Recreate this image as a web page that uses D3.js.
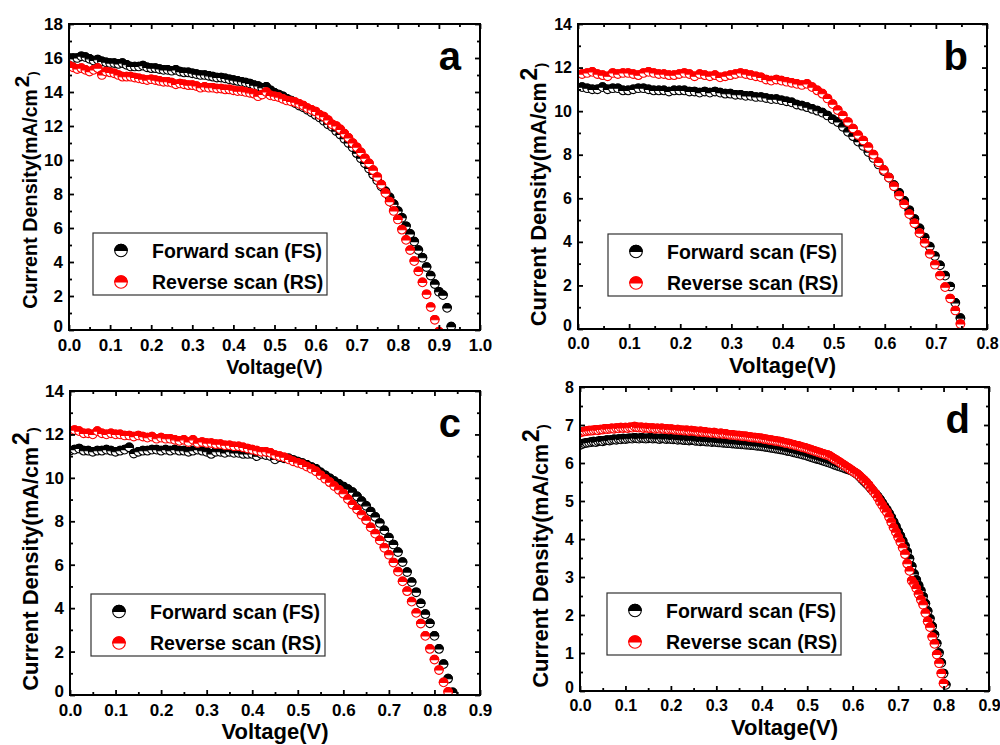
<!DOCTYPE html>
<html>
<head>
<meta charset="utf-8">
<script src="https://cdn.jsdelivr.net/npm/d3@7/dist/d3.min.js"></script>
<style>
  body { margin: 0; background: #fff; }
  svg { display: block; }
</style>
</head>
<body>
<script>
// ---- panel a ----
const voltsA = [0.00,0.01,0.02,0.03,0.04,0.05,0.06,0.07,0.08,0.09,
  0.10,0.11,0.12,0.13,0.14,0.15,0.16,0.17,0.18,0.19,
  0.20,0.21,0.22,0.23,0.24,0.25,0.26,0.27,0.28,0.29,
  0.30,0.31,0.32,0.33,0.34,0.35,0.36,0.37,0.38,0.39,
  0.40,0.41,0.42,0.43,0.44,0.45,0.46,0.47,0.48,0.49,
  0.50,0.51,0.52,0.53,0.54,0.55,0.56,0.57,0.58,0.59,
  0.60,0.61,0.62,0.63,0.64,0.65,0.66,0.67,0.68,0.69,
  0.70,0.71,0.72,0.73,0.74,0.75,0.76,0.77,0.78,0.79,
  0.80,0.81,0.82,0.83,0.84,0.85,0.86,0.87,0.88,0.89,
  0.90,0.91,0.92,0.93];
const fsA = [16.0,16.0,16.0,16.1,16.05,15.95,15.85,15.9,15.8,15.75,
  15.7,15.7,15.65,15.7,15.6,15.5,15.5,15.5,15.55,15.45,
  15.4,15.4,15.35,15.3,15.3,15.25,15.3,15.2,15.15,15.15,
  15.1,15.05,15.0,15.0,14.95,14.9,14.85,14.85,14.8,14.75,
  14.7,14.65,14.6,14.55,14.5,14.4,14.35,14.25,14.3,14.1,
  13.95,13.85,13.75,13.6,13.5,13.35,13.2,13.1,12.95,12.8,
  12.65,12.5,12.3,12.1,11.95,11.7,11.5,11.25,11.0,10.75,
  10.4,10.1,9.8,9.5,9.15,8.8,8.45,8.15,7.8,7.4,
  7.0,6.6,6.1,5.65,5.2,4.7,4.25,3.7,3.2,2.7,
  2.25,2.05,1.3,0.2];
const rsA = [15.55,15.45,15.35,15.4,15.3,15.2,15.3,15.4,15.0,15.2,
  15.15,15.1,15.0,14.9,14.9,14.9,14.85,14.8,14.75,14.7,
  14.75,14.7,14.65,14.6,14.6,14.55,14.45,14.5,14.45,14.4,
  14.4,14.35,14.25,14.3,14.25,14.25,14.2,14.2,14.15,14.15,
  14.1,14.05,14.05,14.0,13.95,13.9,13.75,13.85,14.0,13.8,
  13.75,13.7,13.6,13.5,13.45,13.4,13.3,13.2,13.05,12.95,
  12.85,12.65,12.55,12.35,12.1,12.0,11.8,11.55,11.3,11.0,
  10.75,10.45,10.1,9.8,9.4,9.0,8.55,8.05,7.55,7.0,
  6.5,5.9,5.3,4.7,4.05,3.45,2.8,2.1,1.35,0.6,
  -0.1];

// ---- panel b ----
const voltsB = [0.008,0.018,0.028,0.038,0.048,0.058,0.068,0.078,0.088,0.098,
  0.108,0.118,0.128,0.138,0.148,0.158,0.168,0.178,0.188,0.198,
  0.208,0.218,0.228,0.238,0.248,0.258,0.268,0.278,0.288,0.298,
  0.308,0.318,0.328,0.338,0.348,0.358,0.368,0.378,0.388,0.398,
  0.408,0.418,0.428,0.438,0.448,0.458,0.468,0.478,0.488,0.498,
  0.508,0.518,0.528,0.538,0.548,0.558,0.568,0.578,0.588,0.598,
  0.608,0.618,0.628,0.638,0.648,0.658,0.668,0.678,0.688,0.698,
  0.708,0.718,0.728,0.738,0.748];
const fsB = [11.1,11.05,11.0,11.0,11.1,11.0,11.05,11.05,10.95,10.95,
  11.0,11.05,11.05,11.0,10.95,10.95,10.95,10.9,10.95,10.95,
  10.95,10.9,10.9,10.85,10.9,10.85,10.9,10.85,10.8,10.8,
  10.75,10.75,10.7,10.7,10.65,10.65,10.6,10.55,10.55,10.5,
  10.45,10.4,10.3,10.25,10.18,10.1,10.02,9.93,9.8,9.62,
  9.5,9.28,9.05,8.85,8.6,8.4,8.12,7.85,7.55,7.25,
  6.95,6.6,6.25,5.88,5.45,5.05,4.62,4.2,3.78,3.35,
  2.92,2.45,1.95,1.2,0.5];
const rsB = [11.7,11.75,11.8,11.7,11.65,11.6,11.75,11.7,11.75,11.75,
  11.7,11.65,11.75,11.8,11.75,11.7,11.7,11.65,11.65,11.7,
  11.75,11.7,11.6,11.7,11.65,11.6,11.65,11.55,11.6,11.65,
  11.7,11.75,11.7,11.65,11.6,11.55,11.45,11.4,11.45,11.4,
  11.35,11.3,11.25,11.2,11.25,11.1,10.95,10.8,10.58,10.32,
  10.05,9.8,9.5,9.2,8.9,8.65,8.35,8.0,7.65,7.3,
  6.95,6.55,6.12,5.72,5.27,4.85,4.4,3.95,3.45,2.95,
  2.45,1.92,1.4,0.85,0.23];

// ---- panel c ----
const voltsC = [0.00,0.01,0.02,0.03,0.04,0.05,0.06,0.07,0.08,0.09,
  0.10,0.11,0.12,0.13,0.14,0.15,0.16,0.17,0.18,0.19,
  0.20,0.21,0.22,0.23,0.24,0.25,0.26,0.27,0.28,0.29,
  0.30,0.31,0.32,0.33,0.34,0.35,0.36,0.37,0.38,0.39,
  0.40,0.41,0.42,0.43,0.44,0.45,0.46,0.47,0.48,0.49,
  0.50,0.51,0.52,0.53,0.54,0.55,0.56,0.57,0.58,0.59,
  0.60,0.61,0.62,0.63,0.64,0.65,0.66,0.67,0.68,0.69,
  0.70,0.71,0.72,0.73,0.74,0.75,0.76,0.77,0.78,0.79,
  0.80,0.81,0.82,0.83,0.84];
const fsC = [11.25,11.3,11.35,11.25,11.25,11.2,11.25,11.25,11.3,11.25,
  11.2,11.25,11.3,11.4,11.12,11.2,11.25,11.25,11.3,11.3,
  11.25,11.3,11.25,11.3,11.25,11.25,11.2,11.25,11.3,11.25,
  11.2,11.1,11.2,11.2,11.15,11.2,11.15,11.15,11.1,11.1,
  11.1,11.0,11.1,11.05,11.0,10.85,10.95,10.9,10.9,10.82,
  10.75,10.68,10.6,10.5,10.41,10.25,10.12,9.98,9.85,9.72,
  9.6,9.48,9.34,9.15,8.93,8.71,8.45,8.2,7.92,7.58,
  7.25,6.93,6.58,6.12,5.66,5.2,4.73,4.22,3.72,3.3,
  2.72,2.12,1.42,0.75,0.12];
const rsC = [12.15,12.2,12.15,12.05,12.05,12.0,12.15,12.05,12.0,12.05,
  12.0,12.0,11.95,11.95,11.9,11.95,11.9,11.85,11.9,11.8,
  11.85,11.8,11.8,11.75,11.7,11.75,11.65,11.75,11.6,11.65,
  11.6,11.6,11.55,11.55,11.5,11.5,11.45,11.45,11.4,11.35,
  11.3,11.25,11.2,11.2,11.15,11.05,11.0,10.95,10.85,10.76,
  10.69,10.62,10.52,10.42,10.3,10.12,9.96,9.8,9.62,9.45,
  9.27,9.02,8.77,8.55,8.3,8.05,7.72,7.43,7.12,6.78,
  6.46,6.1,5.68,5.23,4.78,4.3,3.78,3.29,2.72,2.12,
  1.63,1.15,0.58,0.14];

// ---- panel d ----
const voltsD = [0.000,0.005,0.010,0.015,0.020,0.025,0.030,0.035,0.040,0.045,
  0.050,0.055,0.060,0.065,0.070,0.075,0.080,0.085,0.090,0.095,
  0.100,0.105,0.110,0.115,0.120,0.125,0.130,0.135,0.140,0.145,
  0.150,0.155,0.160,0.165,0.170,0.175,0.180,0.185,0.190,0.195,
  0.200,0.205,0.210,0.215,0.220,0.225,0.230,0.235,0.240,0.245,
  0.250,0.255,0.260,0.265,0.270,0.275,0.280,0.285,0.290,0.295,
  0.300,0.305,0.310,0.315,0.320,0.325,0.330,0.335,0.340,0.345,
  0.350,0.355,0.360,0.365,0.370,0.375,0.380,0.385,0.390,0.395,
  0.400,0.405,0.410,0.415,0.420,0.425,0.430,0.435,0.440,0.445,
  0.450,0.455,0.460,0.465,0.470,0.475,0.480,0.485,0.490,0.495,
  0.500,0.505,0.510,0.515,0.520,0.525,0.530,0.535,0.540,0.545,
  0.550,0.555,0.560,0.565,0.570,0.575,0.580,0.585,0.590,0.595,
  0.600,0.605,0.610,0.615,0.620,0.625,0.630,0.635,0.640,0.645,
  0.650,0.655,0.660,0.665,0.670,0.675,0.680,0.685,0.690,0.695,
  0.700,0.705,0.710,0.715,0.720,0.725,0.730,0.735,0.740,0.745,
  0.750,0.755,0.760,0.765,0.770,0.775,0.780,0.785,0.790,0.795,
  0.800,0.805];
const fsD = [6.47,6.50,6.52,6.53,6.54,6.55,6.56,6.55,6.57,6.58,
  6.57,6.59,6.60,6.59,6.61,6.62,6.61,6.63,6.62,6.64,
  6.63,6.64,6.65,6.64,6.66,6.65,6.64,6.66,6.65,6.64,
  6.65,6.66,6.64,6.65,6.64,6.63,6.65,6.64,6.63,6.64,
  6.63,6.62,6.63,6.61,6.62,6.61,6.60,6.61,6.59,6.60,
  6.60,6.58,6.59,6.57,6.58,6.57,6.56,6.57,6.55,6.56,
  6.55,6.54,6.54,6.53,6.53,6.52,6.52,6.51,6.51,6.50,
  6.50,6.49,6.49,6.48,6.48,6.47,6.47,6.46,6.45,6.45,
  6.44,6.43,6.42,6.41,6.40,6.39,6.38,6.37,6.36,6.35,
  6.34,6.32,6.31,6.30,6.28,6.27,6.25,6.24,6.22,6.21,
  6.19,6.17,6.15,6.13,6.11,6.10,6.08,6.06,6.04,6.02,
  6.00,5.98,5.95,5.93,5.91,5.89,5.87,5.85,5.83,5.81,
  5.78,5.74,5.70,5.64,5.58,5.52,5.46,5.40,5.33,5.26,
  5.19,5.12,5.04,4.95,4.86,4.77,4.67,4.57,4.45,4.33,
  4.20,4.08,3.95,3.82,3.66,3.48,3.28,3.08,2.92,2.78,
  2.64,2.48,2.30,2.10,1.90,1.70,1.48,1.25,1.00,0.74,
  0.46,0.16];
const rsD = [6.80,6.82,6.83,6.84,6.85,6.85,6.86,6.87,6.86,6.88,
  6.88,6.90,6.89,6.90,6.91,6.90,6.92,6.91,6.93,6.92,
  6.93,6.92,6.94,6.93,6.96,6.94,6.93,6.94,6.92,6.93,
  6.92,6.91,6.92,6.90,6.91,6.90,6.91,6.89,6.90,6.88,
  6.89,6.88,6.87,6.88,6.86,6.86,6.85,6.86,6.84,6.85,
  6.84,6.83,6.82,6.83,6.81,6.82,6.80,6.80,6.79,6.80,
  6.78,6.77,6.78,6.76,6.77,6.75,6.74,6.74,6.73,6.72,
  6.72,6.71,6.70,6.70,6.69,6.68,6.67,6.67,6.66,6.65,
  6.65,6.63,6.62,6.61,6.60,6.59,6.58,6.57,6.56,6.55,
  6.53,6.52,6.51,6.49,6.48,6.46,6.45,6.43,6.41,6.40,
  6.38,6.36,6.34,6.32,6.30,6.28,6.26,6.24,6.22,6.21,
  6.18,6.14,6.10,6.07,6.03,5.99,5.95,5.91,5.87,5.83,
  5.79,5.75,5.71,5.66,5.60,5.55,5.49,5.42,5.34,5.26,
  5.19,5.09,4.98,4.89,4.79,4.71,4.58,4.44,4.30,4.18,
  4.05,3.92,3.77,3.60,3.35,3.16,2.90,2.82,2.70,2.55,
  2.40,2.27,2.05,1.83,1.68,1.42,1.24,0.96,0.73,0.46,
  0.20];

// tick labels
const xTicks10 = [0.0,0.1,0.2,0.3,0.4,0.5,0.6,0.7,0.8,0.9,1.0];
const xTicks9 = [0.0,0.1,0.2,0.3,0.4,0.5,0.6,0.7,0.8,0.9];
const xTicks8 = [0.0,0.1,0.2,0.3,0.4,0.5,0.6,0.7,0.8];
const yTicks18 = [0,2,4,6,8,10,12,14,16,18];
const yTicks14 = [0,2,4,6,8,10,12,14];
const yTicks8 = [0,1,2,3,4,5,6,7,8];

const legendLabels = ["Forward scan (FS)", "Reverse scan (RS)"];
const seriesColors = ["#000000", "#ff0000"];
const FONT = "'Liberation Sans', Arial, Helvetica, sans-serif";

const panels = [
  {key: "a", volts: voltsA, fs: fsA, rs: rsA, xTicks: xTicks10, yTicks: yTicks18,
   left: 69, top: 24, right: 480, bottom: 330, tickFont: 17, ts: 0.9, legDx: 24, legDy: 97, yShift: 13},
  {key: "b", volts: voltsB, fs: fsB, rs: rsB, xTicks: xTicks8, yTicks: yTicks14,
   left: 578, top: 24, right: 987, bottom: 329, tickFont: 16, ts: 1, legDx: 30, legDy: 95, yShift: 18},
  {key: "c", volts: voltsC, fs: fsC, rs: rsC, xTicks: xTicks9, yTicks: yTicks14,
   left: 70, top: 391, right: 480, bottom: 695, tickFont: 17, ts: 1, legDx: 21, legDy: 101, yShift: 16},
  {key: "d", volts: voltsD, fs: fsD, rs: rsD, xTicks: xTicks9, yTicks: yTicks8,
   left: 580, top: 387, right: 989, bottom: 691, tickFont: 16, ts: 1, legDx: 27, legDy: 98, yShift: 17}
];

const svg = d3.select("body")
  .append("svg")
  .attr("width", 1000)
  .attr("height", 745)
  .style("font-family", FONT)
  .style("font-weight", "bold");

// half-up filled circle, like Origin's symbol
function halfMarker(sel, color, r) {
  sel.append("circle")
    .attr("r", r)
    .attr("fill", "#fff")
    .attr("stroke", color)
    .attr("stroke-width", 1.1);
  sel.append("path")
    .attr("d", `M${-r},0A${r},${r} 0 0 1 ${r},0Z`)
    .attr("fill", color)
    .attr("stroke", color)
    .attr("stroke-width", 1.1);
}

const minorOf = t => d3.pairs(t, (a, b) => (a + b) / 2);

function drawPanel(p) {
  const x = d3.scaleLinear().domain(d3.extent(p.xTicks)).range([p.left, p.right]);
  const y = d3.scaleLinear().domain(d3.extent(p.yTicks)).range([p.bottom, p.top]);
  const g = svg.append("g");

  svg.append("clipPath").attr("id", "clip-" + p.key)
    .append("rect")
    .attr("x", p.left).attr("y", p.top)
    .attr("width", p.right - p.left).attr("height", p.bottom - p.top);

  const pts = g.append("g").attr("clip-path", `url(#clip-${p.key})`);
  [p.fs, p.rs].forEach((vals, si) => {
    pts.append("g")
      .selectAll("g")
      .data(vals.map((v, k) => [p.volts[k], v]))
      .join("g")
      .attr("transform", d => `translate(${x(d[0])},${y(d[1])})`)
      .call(halfMarker, seriesColors[si], 4.3);
  });

  const style = sel => {
    sel.select(".domain").remove();
    sel.selectAll("line").attr("stroke", "#000").attr("stroke-width", 1.8);
    sel.attr("font-family", FONT).attr("font-size", p.tickFont).attr("font-weight", "bold");
    sel.selectAll("text").attr("fill", "#000");
  };

  // bottom / top
  g.append("g").attr("transform", `translate(0,${p.bottom})`)
    .call(d3.axisBottom(x).tickValues(p.xTicks).tickSize(-5).tickPadding(9).tickFormat(d3.format(".1f")))
    .call(style);
  g.append("g").attr("transform", `translate(0,${p.bottom})`)
    .call(d3.axisBottom(x).tickValues(minorOf(p.xTicks)).tickSize(-3).tickFormat(""))
    .call(style);
  g.append("g").attr("transform", `translate(0,${p.top})`)
    .call(d3.axisTop(x).tickValues(p.xTicks).tickSize(-5).tickFormat(""))
    .call(style);
  g.append("g").attr("transform", `translate(0,${p.top})`)
    .call(d3.axisTop(x).tickValues(minorOf(p.xTicks)).tickSize(-3).tickFormat(""))
    .call(style);
  // left / right
  const yAxis = g.append("g").attr("transform", `translate(${p.left},0)`)
    .call(d3.axisLeft(y).tickValues(p.yTicks).tickSize(-5).tickPadding(6).tickFormat(d3.format("d")))
    .call(style);
  // the "0" sits a touch higher so it clears the "0.0" below it
  yAxis.selectAll(".tick text").filter(d => d === 0).attr("dy", "0.1em");
  g.append("g").attr("transform", `translate(${p.left},0)`)
    .call(d3.axisLeft(y).tickValues(minorOf(p.yTicks)).tickSize(-3).tickFormat(""))
    .call(style);
  g.append("g").attr("transform", `translate(${p.right},0)`)
    .call(d3.axisRight(y).tickValues(p.yTicks).tickSize(-5).tickFormat(""))
    .call(style);
  g.append("g").attr("transform", `translate(${p.right},0)`)
    .call(d3.axisRight(y).tickValues(minorOf(p.yTicks)).tickSize(-3).tickFormat(""))
    .call(style);

  g.append("rect")
    .attr("x", p.left).attr("y", p.top)
    .attr("width", p.right - p.left).attr("height", p.bottom - p.top)
    .attr("fill", "none").attr("stroke", "#000").attr("stroke-width", 2);

  // legend
  const lx = p.left + p.legDx, ly = p.bottom - p.legDy;
  g.append("rect")
    .attr("x", lx).attr("y", ly).attr("width", 234).attr("height", 62)
    .attr("fill", "#fff").attr("stroke", "#333").attr("stroke-width", 1.2);
  legendLabels.forEach((lab, si) => {
    const cy = ly + 17.5 + si * 31.5;
    g.append("g").attr("transform", `translate(${lx + 28},${cy})`)
      .call(halfMarker, seriesColors[si], 6.3);
    g.append("text")
      .attr("x", lx + 59).attr("y", cy + 7)
      .attr("font-size", 19.5)
      .text(lab);
  });

  // panel letter
  g.append("text")
    .attr("x", p.right - 19).attr("y", p.top + 46)
    .attr("text-anchor", "end")
    .attr("font-size", 40)
    .text(p.key);

  // axis titles
  g.append("text")
    .attr("x", (p.left + p.right) / 2).attr("y", p.bottom + 44)
    .attr("text-anchor", "middle")
    .attr("font-size", 22 * p.ts)
    .text("Voltage(V)");

  const yt = g.append("text")
    .attr("transform", `translate(${p.left - 32},${(p.top + p.bottom) / 2 + p.yShift}) rotate(-90)`)
    .attr("text-anchor", "middle");
  yt.append("tspan").attr("font-size", 22 * p.ts).text("Current Density");
  yt.append("tspan").attr("font-size", 21.5 * p.ts).text("(mA/cm");
  yt.append("tspan").attr("font-size", 23 * p.ts).attr("dx", 2).attr("dy", -9 * p.ts).text("2");
  yt.append("tspan").attr("font-size", 15 * p.ts).attr("dy", 9 * p.ts).text(")");
}

panels.forEach(drawPanel);
</script>
</body>
</html>
